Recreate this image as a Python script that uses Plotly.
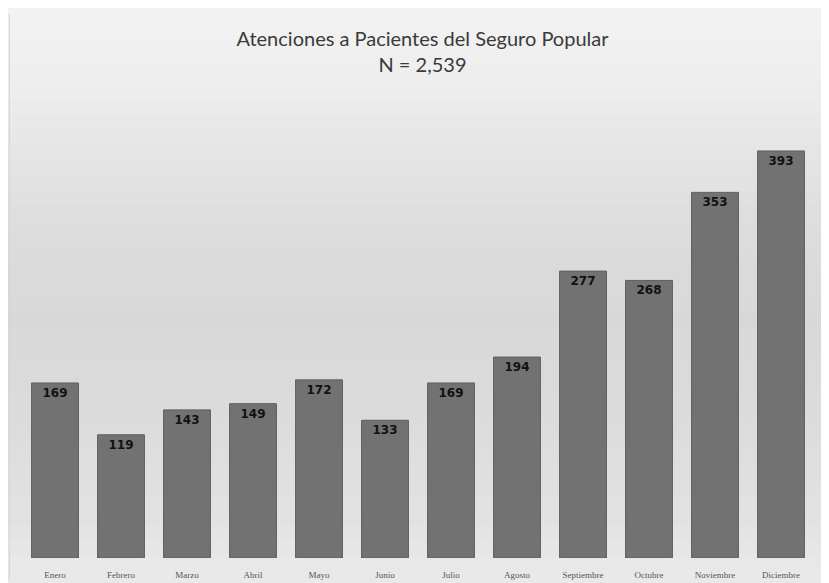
import plotly.graph_objects as go

months = ["Enero", "Febrero", "Marzo", "Abril", "Mayo", "Junio", "Julio",
          "Agosto", "Septiembre", "Octubre", "Noviembre", "Diciembre"]
values = [169, 119, 143, 149, 172, 133, 169, 194, 277, 268, 353, 393]

fig = go.Figure()
fig.add_trace(go.Bar(
    x=months, y=values,
    marker=dict(color="#727272", line=dict(color="#5f5f5f", width=1)),
    text=[str(v) for v in values],
    textposition="inside", insidetextanchor="end",
    textfont=dict(family="DejaVu Sans", size=12, color="#111111", weight="bold"),
    textangle=0,
    width=0.71,
))

# soft vertical background gradient (decoration), paper coords
def lerp(a, b, t):
    return int(round(a + (b - a) * t))

stops = [(1.30, 243), (1.05, 236), (0.80, 222), (0.55, 216), (0.30, 220), (0.10, 226), (-0.10, 236)]
shapes = []
n = 40
top, bot = 1.30, -0.10
step = (top - bot) / n
for i in range(n):
    y1 = top - step * i
    y0 = y1 - step
    ym = (y0 + y1) / 2
    g = stops[-1][1]
    for j in range(len(stops) - 1):
        a, ca = stops[j]
        b, cb = stops[j + 1]
        if a >= ym >= b:
            g = lerp(ca, cb, (a - ym) / (a - b))
            break
    shapes.append(dict(type="rect", xref="paper", yref="paper", x0=-0.03, x1=1.03,
                       y0=y0 - step * 0.3, y1=y1, fillcolor=f"rgb({g},{g},{g})",
                       line=dict(width=0), layer="below"))
shapes.append(dict(type="line", xref="paper", yref="paper", x0=-0.016, x1=-0.016,
                   y0=-0.05, y1=1.25, line=dict(color="#d4d4d4", width=1), layer="below"))

fig.update_layout(
    width=829, height=583,
    margin=dict(l=14, r=23, t=115, b=33),
    paper_bgcolor="#f1f1f1",
    plot_bgcolor="rgba(0,0,0,0)",
    shapes=shapes,
    showlegend=False,
    bargap=0.29,
    title=dict(text="Atenciones a Pacientes del Seguro Popular<br>N = 2,539",
               x=0.5, xanchor="center", y=0.935, yanchor="top",
               font=dict(family="Lato", size=20, color="#3a3a3a")),
    xaxis=dict(showgrid=False, showline=False, ticks="", ticklabelstandoff=10,
               tickfont=dict(family="Liberation Serif", size=9, color="#555555")),
    yaxis=dict(range=[0, 420], visible=False, showgrid=False),
)

fig.write_html("out.html")
